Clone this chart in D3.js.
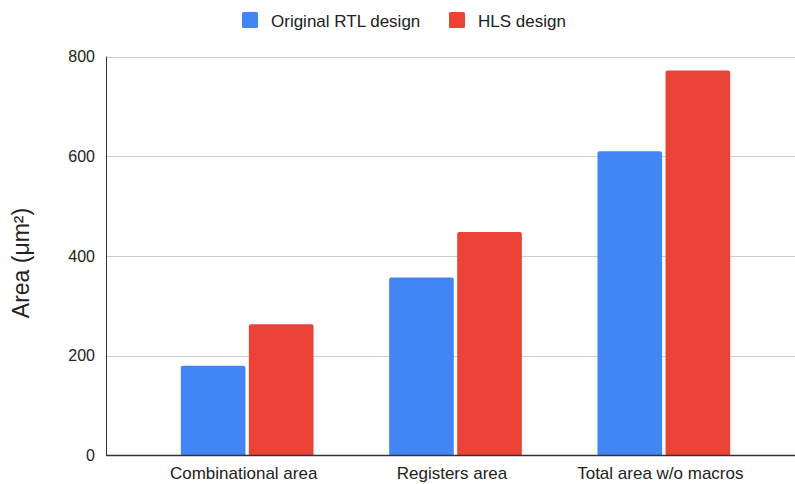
<!DOCTYPE html>
<html>
<head>
<meta charset="utf-8">
<script src="https://cdn.jsdelivr.net/npm/d3@7"></script>
<style>
  html, body { margin: 0; padding: 0; background: #fff; }
  svg { display: block; font-family: "Liberation Sans", Arial, sans-serif; }
</style>
</head>
<body>
<svg id="chart" width="795" height="484"></svg>
<script>
// Chart data
const categories = ["Combinational area", "Registers area", "Total area w/o macros"];
const seriesNames = ["Original RTL design", "HLS design"];
const rtlValues = [180, 357, 610];
const hlsValues = [263, 448, 772];
const yTicks = [0, 200, 400, 600, 800];
const seriesColors = ["#4285F4", "#EA4335"];
const yTitle = "Area (\u03BCm\u00B2)";

const svg = d3.select("#chart");
const plot = { left: 106, right: 795, top: 56.5, bottom: 455.5 };
const FONT = "'Liberation Sans', Arial, sans-serif";

const rows = categories.map((c, i) => ({ cat: c, values: [rtlValues[i], hlsValues[i]] }));

const y = d3.scaleLinear().domain([0, 800]).range([plot.bottom, plot.top]);

const x0 = d3.scaleBand()
  .domain(categories)
  .range([143, 768])
  .paddingInner(0.363)
  .paddingOuter(0.1815);

const x1 = d3.scaleBand()
  .domain(seriesNames)
  .range([0, x0.bandwidth()])
  .paddingInner(0.05);

// Horizontal gridlines
svg.append("g")
  .selectAll("line")
  .data(yTicks.filter(t => t !== 0))
  .join("line")
  .attr("x1", plot.left).attr("x2", plot.right)
  .attr("y1", d => Math.round(y(d)) + 0.5).attr("y2", d => Math.round(y(d)) + 0.5)
  .attr("stroke", "#cccccc").attr("stroke-width", 1);

// Y tick labels
const yAxis = d3.axisLeft(y).tickValues(yTicks).tickSize(0).tickPadding(11);
const gy = svg.append("g").attr("transform", `translate(${plot.left},0)`).call(yAxis);
gy.select(".domain").remove();
gy.selectAll("text")
  .attr("font-size", 16)
  .attr("fill", "#222")
  .attr("font-family", FONT);

// Bars with slightly rounded tops
function barPath(xp, w, yTop, yBase, r) {
  const h = yBase - yTop;
  r = Math.min(r, w / 2, h);
  return `M${xp},${yBase}V${yTop + r}Q${xp},${yTop} ${xp + r},${yTop}H${xp + w - r}Q${xp + w},${yTop} ${xp + w},${yTop + r}V${yBase}Z`;
}

const groups = svg.append("g")
  .selectAll("g")
  .data(rows)
  .join("g")
  .attr("transform", d => `translate(${x0(d.cat)},0)`);

groups.selectAll("path")
  .data(d => d.values.map((v, i) => ({ key: seriesNames[i], value: v, idx: i })))
  .join("path")
  .attr("d", d => barPath(x1(d.key), x1.bandwidth(), y(d.value), y(0), 2))
  .attr("fill", d => seriesColors[d.idx]);

// Axis lines
svg.append("line")
  .attr("x1", plot.left + 0.5).attr("x2", plot.left + 0.5)
  .attr("y1", plot.top).attr("y2", plot.bottom)
  .attr("stroke", "#333").attr("stroke-width", 1);

const xAxis = d3.axisBottom(x0).tickSize(0).tickPadding(11);
const gx = svg.append("g").attr("transform", `translate(0,${Math.round(plot.bottom) - 0.5})`).call(xAxis);
gx.select(".domain").remove();
gx.selectAll("text")
  .attr("font-size", 17)
  .attr("dx", -3.5)
  .attr("fill", "#222")
  .attr("font-family", FONT);
svg.append("line")
  .attr("x1", plot.left).attr("x2", plot.right)
  .attr("y1", Math.round(plot.bottom) - 0.5).attr("y2", Math.round(plot.bottom) - 0.5)
  .attr("stroke", "#333").attr("stroke-width", 1.5);

// Y axis title
svg.append("text")
  .attr("transform", `translate(29,263) rotate(-90)`)
  .attr("text-anchor", "middle")
  .attr("font-size", 23)
  .attr("font-family", FONT)
  .attr("fill", "#222")
  .text(yTitle);

// Legend
const legendItems = [
  { name: seriesNames[0], color: seriesColors[0], x: 242 },
  { name: seriesNames[1], color: seriesColors[1], x: 449 }
];
const lg = svg.append("g");
legendItems.forEach(it => {
  lg.append("rect")
    .attr("x", it.x).attr("y", 12)
    .attr("width", 16).attr("height", 16)
    .attr("rx", 1.5)
    .attr("fill", it.color);
  lg.append("text")
    .attr("x", it.x + 29).attr("y", 26.5)
    .attr("font-size", 17)
    .attr("font-family", FONT)
    .attr("fill", "#222")
    .text(it.name);
});
</script>
</body>
</html>
